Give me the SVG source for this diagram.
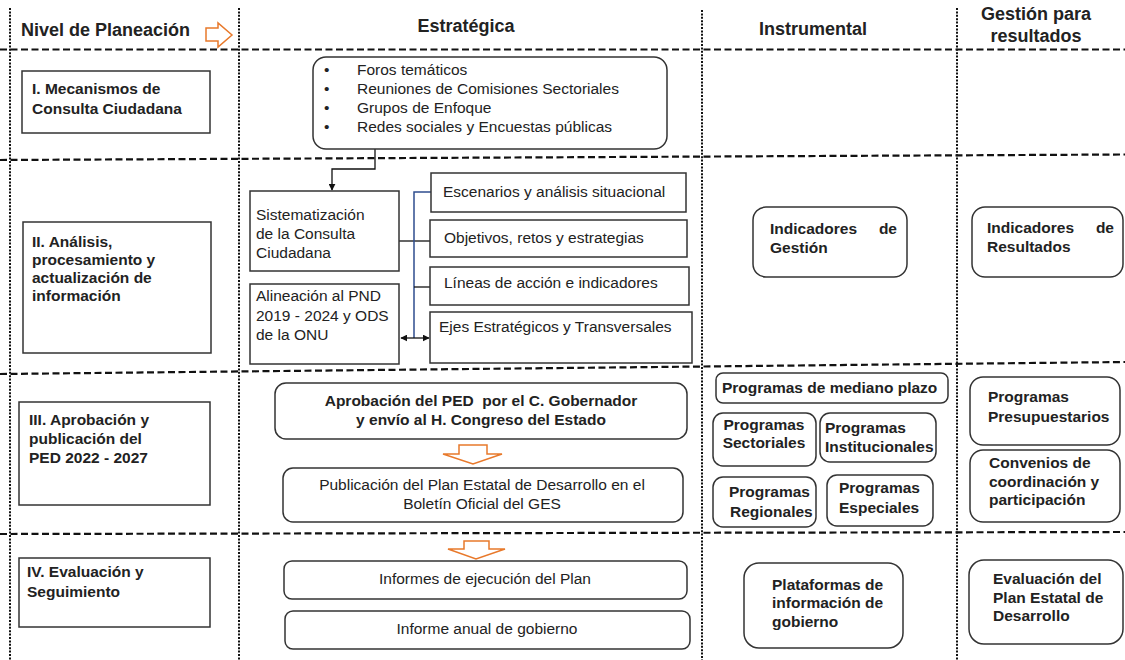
<svg xmlns="http://www.w3.org/2000/svg" width="1125" height="660" viewBox="0 0 1125 660">
<defs>
<marker id="ah" viewBox="0 0 10 10" refX="9" refY="5" markerWidth="7" markerHeight="7" orient="auto-start-reverse" markerUnits="userSpaceOnUse">
<path d="M0,0 L10,5 L0,10 z" fill="#111"/>
</marker>
<style>
.gdash{stroke:#111;stroke-width:2.2;stroke-dasharray:7 3.5;fill:none}
.gdot{stroke:#111;stroke-width:2;stroke-dasharray:2 1.4;fill:none}
.box{fill:#fff;stroke:#333;stroke-width:1.5}
text{font-family:"Liberation Sans",Arial,sans-serif;fill:#222}
.h{font-size:18px;font-weight:bold}
.b{font-size:15.5px;font-weight:bold}
.r{font-size:15.5px}
.c{text-anchor:middle}
.e{text-anchor:end}
.orange{fill:#fff;stroke:#E8792B;stroke-width:1.5}
.conn{stroke:#111;stroke-width:1.3;fill:none}
.blue{stroke:#2F4E8F;stroke-width:1.5;fill:none}
</style>
</defs>
<rect width="1125" height="660" fill="#fff"/>

<g id="grid">
<line class="gdash" x1="0" y1="49.5" x2="1125" y2="49.5"/>
<line class="gdash" x1="0" y1="160" x2="1125" y2="154.5"/>
<line class="gdash" x1="0" y1="374" x2="1125" y2="362"/>
<line class="gdash" x1="0" y1="534" x2="1125" y2="532"/>
<line class="gdot" x1="10" y1="8" x2="10" y2="660"/>
<line class="gdot" x1="239" y1="8" x2="239" y2="660"/>
<line class="gdot" x1="702" y1="10" x2="702" y2="660"/>
<line class="gdot" x1="957" y1="8" x2="957" y2="660"/>
</g>

<g id="headers">
<text class="h" x="21" y="36">Nivel de Planeación</text>
<polygon class="orange" points="206,28 218,28 218,23 232,35 218,47 218,41 206,41"/>
<text class="h c" x="466" y="32">Estratégica</text>
<text class="h c" x="813" y="35">Instrumental</text>
<text class="h c" x="1036" y="20">Gestión para</text>
<text class="h c" x="1036" y="42">resultados</text>
</g>

<g id="connectors">
<path class="conn" d="M375,149 V169 H332 V190" marker-end="url(#ah)"/>
<line class="conn" x1="399" y1="241" x2="430" y2="241"/>
<path class="blue" d="M432,192 H414 V338"/>
<line class="conn" x1="414" y1="287" x2="430" y2="287"/>
<line class="conn" x1="401" y1="338" x2="429" y2="338" marker-start="url(#ah)" marker-end="url(#ah)"/>
<polygon class="orange" points="459,445 487,445 487,454 502,454 473,464 443,454 459,454"/>
<polygon class="orange" points="464,541 489,541 489,549 505,549 476,559 448,549 464,549"/>
</g>

<g id="n-mecanismos">
<rect class="box" x="22" y="71" width="188" height="62"/>
<text class="b" x="32" y="94">I. Mecanismos de</text>
<text class="b" x="32" y="114">Consulta Ciudadana</text>
</g>

<g id="n-foros">
<rect class="box" x="313" y="57" width="354" height="92" rx="13"/>
<text class="r" x="324" y="75">•</text>
<text class="r" x="324" y="94">•</text>
<text class="r" x="324" y="113">•</text>
<text class="r" x="324" y="132">•</text>
<text class="r" x="357" y="75">Foros temáticos</text>
<text class="r" x="357" y="94">Reuniones de Comisiones Sectoriales</text>
<text class="r" x="357" y="113">Grupos de Enfoque</text>
<text class="r" x="357" y="132">Redes sociales y Encuestas públicas</text>
</g>

<g id="n-analisis">
<rect class="box" x="23" y="222" width="188" height="131"/>
<text class="b" x="32" y="247">II. Análisis,</text>
<text class="b" x="32" y="265">procesamiento y</text>
<text class="b" x="32" y="283">actualización de</text>
<text class="b" x="32" y="301">información</text>
</g>

<g id="n-sistematizacion">
<rect class="box" x="250" y="191" width="149" height="80"/>
<text class="r" x="256" y="220">Sistematización</text>
<text class="r" x="256" y="239">de la Consulta</text>
<text class="r" x="256" y="258">Ciudadana</text>
</g>

<g id="n-alineacion">
<rect class="box" x="250" y="284" width="149" height="80"/>
<text class="r" x="256" y="301">Alineación al PND</text>
<text class="r" x="256" y="321">2019 - 2024 y ODS</text>
<text class="r" x="256" y="340">de la ONU</text>
</g>

<g id="n-escenarios">
<rect class="box" x="431" y="173" width="255" height="39"/>
<text class="r" x="443" y="197">Escenarios y análisis situacional</text>
</g>
<g id="n-objetivos">
<rect class="box" x="430" y="220" width="257" height="37"/>
<text class="r" x="444" y="243">Objetivos, retos y estrategias</text>
</g>
<g id="n-lineas">
<rect class="box" x="430" y="267" width="259" height="38"/>
<text class="r" x="444" y="288">Líneas de acción e indicadores</text>
</g>
<g id="n-ejes">
<rect class="box" x="430" y="312" width="262" height="51"/>
<text class="r" x="439" y="332">Ejes Estratégicos y Transversales</text>
</g>

<g id="n-ind-gestion">
<rect class="box" x="753" y="207" width="154" height="70" rx="13"/>
<text class="b" x="770" y="234">Indicadores</text>
<text class="b e" x="897" y="234">de</text>
<text class="b" x="770" y="253">Gestión</text>
</g>
<g id="n-ind-resultados">
<rect class="box" x="972" y="207" width="151" height="70" rx="13"/>
<text class="b" x="987" y="233">Indicadores</text>
<text class="b e" x="1114" y="233">de</text>
<text class="b" x="987" y="252">Resultados</text>
</g>

<g id="n-aprobacion-nivel">
<rect class="box" x="19" y="402" width="191" height="103"/>
<text class="b" x="29" y="425">III. Aprobación y</text>
<text class="b" x="29" y="444">publicación del</text>
<text class="b" x="29" y="463">PED 2022 - 2027</text>
</g>

<g id="n-aprobacion">
<rect class="box" x="275" y="383" width="412" height="56" rx="11"/>
<text class="b c" x="481" y="406" style="white-space:pre">Aprobación del PED  por el C. Gobernador</text>
<text class="b c" x="481" y="425">y envío al H. Congreso del Estado</text>
</g>

<g id="n-publicacion">
<rect class="box" x="283" y="468" width="400" height="54" rx="10"/>
<text class="r c" x="482" y="490">Publicación del Plan Estatal de Desarrollo en el</text>
<text class="r c" x="482" y="509">Boletín Oficial del GES</text>
</g>

<g id="n-mediano">
<rect class="box" x="716" y="373" width="232" height="30" rx="7"/>
<text class="b" x="722" y="393">Programas de mediano plazo</text>
</g>
<g id="n-sectoriales">
<rect class="box" x="713" y="413" width="103" height="53" rx="10"/>
<text class="b c" x="764" y="430">Programas</text>
<text class="b c" x="764" y="448">Sectoriales</text>
</g>
<g id="n-institucionales">
<rect class="box" x="820" y="413" width="116" height="49" rx="10"/>
<text class="b" x="825" y="433">Programas</text>
<text class="b" x="825" y="452">Institucionales</text>
</g>
<g id="n-regionales">
<rect class="box" x="713" y="477" width="103" height="50" rx="10"/>
<text class="b" x="729" y="497">Programas</text>
<text class="b" x="730" y="517">Regionales</text>
</g>
<g id="n-especiales">
<rect class="box" x="827" y="475" width="106" height="51" rx="10"/>
<text class="b" x="839" y="493">Programas</text>
<text class="b" x="839" y="513">Especiales</text>
</g>

<g id="n-presupuestarios">
<rect class="box" x="970" y="377" width="150" height="68" rx="13"/>
<text class="b" x="988" y="402">Programas</text>
<text class="b" x="988" y="422">Presupuestarios</text>
</g>
<g id="n-convenios">
<rect class="box" x="970" y="450" width="150" height="72" rx="13"/>
<text class="b" x="989" y="468">Convenios de</text>
<text class="b" x="989" y="487">coordinación y</text>
<text class="b" x="989" y="505">participación</text>
</g>

<g id="n-evaluacion-nivel">
<rect class="box" x="19" y="558" width="191" height="69"/>
<text class="b" x="27" y="577">IV. Evaluación y</text>
<text class="b" x="27" y="597">Seguimiento</text>
</g>

<g id="n-informes">
<rect class="box" x="284" y="561" width="403" height="38" rx="8"/>
<text class="r c" x="485" y="584">Informes de ejecución del Plan</text>
</g>
<g id="n-informe-anual">
<rect class="box" x="285" y="611" width="405" height="38" rx="8"/>
<text class="r c" x="487" y="634">Informe anual de gobierno</text>
</g>

<g id="n-plataformas">
<rect class="box" x="744" y="563" width="159" height="85" rx="15"/>
<text class="b" x="772" y="590">Plataformas de</text>
<text class="b" x="772" y="608">información de</text>
<text class="b" x="772" y="627">gobierno</text>
</g>
<g id="n-evaluacion">
<rect class="box" x="969" y="560" width="154" height="84" rx="15"/>
<text class="b" x="993" y="584">Evaluación del</text>
<text class="b" x="993" y="603">Plan Estatal de</text>
<text class="b" x="993" y="621">Desarrollo</text>
</g>
</svg>
